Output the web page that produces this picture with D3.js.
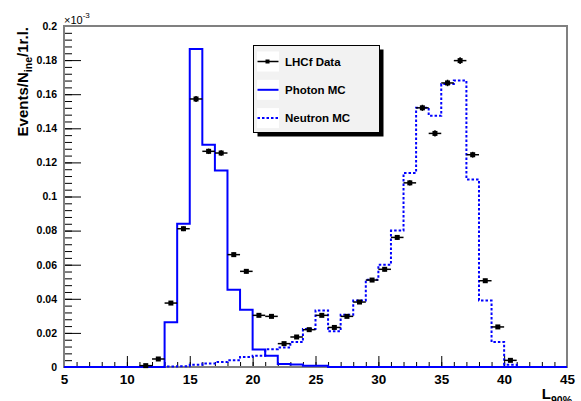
<!DOCTYPE html>
<html lang="en">
<head>
<meta charset="UTF-8">
<title>LHCf L90% distribution</title>
<style>
  body { margin: 0; background: #fff; }
  svg { display: block; font-family: "Liberation Sans", Arial, sans-serif; }
</style>
<script src="https://d3js.org/d3.v7.min.js"></script>
</head>
<body>
<div id="chart"></div>
<script>
// histogram bin edges (1 unit wide, 5..45)
const binEdges = [5, 6, 7, 8, 9, 10, 11, 12, 13, 14, 15, 16, 17, 18, 19, 20, 21, 22, 23, 24, 25,
                  26, 27, 28, 29, 30, 31, 32, 33, 34, 35, 36, 37, 38, 39, 40, 41, 42, 43, 44, 45];

// Photon MC, one value per bin (x10^-3)
const photonMC = [0, 0, 0, 0, 0, 0, 0, 0, 0.0262, 0.0840,
                  0.1865, 0.1304, 0.1153, 0.0453, 0.0336, 0.0102, 0.0066, 0.0018, 0.0015, 0.0008,
                  0.0008, 0, 0, 0, 0, 0, 0, 0, 0, 0,
                  0, 0, 0, 0, 0, 0, 0, 0, 0, 0];

// Neutron MC, one value per bin
const neutronMC = [0, 0, 0, 0, 0, 0, 0, 0, 0.0003, 0.0005,
                   0.0013, 0.0021, 0.0029, 0.0039, 0.0059, 0.0066, 0.0104, 0.0114, 0.0146, 0.0223,
                   0.0332, 0.0209, 0.0307, 0.0390, 0.0512, 0.0600, 0.0800, 0.1138, 0.1520, 0.1474,
                   0.1660, 0.1680, 0.1100, 0.0390, 0.0146, 0.0013, 0, 0, 0, 0];

// LHCf data points (bin centres)
const dataX = [11.5, 12.5, 13.5, 14.5, 15.5, 16.5, 17.5, 18.5, 19.5, 20.5,
               21.5, 22.5, 23.5, 24.5, 25.5, 26.5, 27.5, 28.5, 29.5, 30.5,
               31.5, 32.5, 33.5, 34.5, 35.5, 36.5, 37.5, 38.5, 39.5, 40.5];
const dataY = [0.0008, 0.0047, 0.0375, 0.0811, 0.1572, 0.1265, 0.1255, 0.0659, 0.0561, 0.0303,
               0.0297, 0.0137, 0.0176, 0.0219, 0.0303, 0.0232, 0.0297, 0.0381, 0.0510, 0.0573,
               0.0760, 0.1080, 0.1520, 0.1370, 0.1666, 0.1797, 0.1245, 0.0506, 0.0235, 0.0039];
const dataErr = [0.0006, 0.0008, 0.0012, 0.0014, 0.0018, 0.0016, 0.0016, 0.0012, 0.0012, 0.0010,
                 0.0010, 0.0008, 0.0008, 0.0009, 0.0010, 0.0009, 0.0010, 0.0011, 0.0012, 0.0012,
                 0.0014, 0.0016, 0.0018, 0.0018, 0.0019, 0.0020, 0.0017, 0.0011, 0.0009, 0.0006];

const xTicks = [5, 10, 15, 20, 25, 30, 35, 40, 45];
const yTicks = [0, 0.02, 0.04, 0.06, 0.08, 0.1, 0.12, 0.14, 0.16, 0.18, 0.2];

const legendItems = ["LHCf Data", "Photon MC", "Neutron MC"];

const W = 581, H = 401;
const frame = {left: 64, right: 567, top: 26, bottom: 367};

const svg = d3.select("#chart").append("svg")
  .attr("width", W)
  .attr("height", H);

const x = d3.scaleLinear().domain([5, 45]).range([frame.left, frame.right]);
const y = d3.scaleLinear().domain([0, 0.2]).range([frame.bottom, frame.top]);

// minor ticks
const xMinor = d3.range(5, 45.01, 1);
const yMinor = d3.range(0, 0.2001, 0.004);

svg.append("g")
  .attr("transform", `translate(0,${frame.bottom})`)
  .call(d3.axisBottom(x).tickValues(xMinor).tickSize(-5).tickFormat(""))
  .call(g => g.select(".domain").remove());

svg.append("g")
  .attr("transform", `translate(${frame.left},0)`)
  .call(d3.axisLeft(y).tickValues(yMinor).tickSize(-8).tickFormat(""))
  .call(g => g.select(".domain").remove());

const xAxis = svg.append("g")
  .attr("transform", `translate(0,${frame.bottom})`)
  .call(d3.axisBottom(x).tickValues(xTicks).tickSize(-11).tickPadding(7).tickFormat(d3.format("d")));
xAxis.select(".domain").remove();
xAxis.selectAll("text")
  .attr("font-size", 13.5).attr("font-weight", "bold").attr("fill", "#000")
  .attr("font-family", "Liberation Sans, Arial, sans-serif");

const yAxis = svg.append("g")
  .attr("transform", `translate(${frame.left},0)`)
  .call(d3.axisLeft(y).tickValues(yTicks).tickSize(-17).tickPadding(7)
    .tickFormat(d => d === 0 ? "0" : String(+d.toFixed(2))));
yAxis.select(".domain").remove();
yAxis.selectAll("text")
  .attr("font-size", 10.5).attr("font-weight", "bold").attr("fill", "#000")
  .attr("font-family", "Liberation Sans, Arial, sans-serif");

svg.selectAll(".tick line").attr("stroke", "#000");

// frame
svg.append("rect")
  .attr("x", frame.left).attr("y", frame.top)
  .attr("width", frame.right - frame.left).attr("height", frame.bottom - frame.top)
  .attr("fill", "none").attr("stroke", "#808080").attr("stroke-width", 2);

// step histograms
function stepPoints(vals) {
  const pts = vals.map((v, i) => [binEdges[i], v]);
  pts.push([binEdges[binEdges.length - 1], vals[vals.length - 1]]);
  return pts;
}
const step = d3.line().x(d => x(d[0])).y(d => y(d[1])).curve(d3.curveStepAfter);

svg.append("path")
  .datum(stepPoints(neutronMC))
  .attr("fill", "none").attr("stroke", "#0000ff").attr("stroke-width", 2)
  .attr("stroke-dasharray", "2.5,2")
  .attr("d", step);

svg.append("path")
  .datum(stepPoints(photonMC))
  .attr("fill", "none").attr("stroke", "#0000ff").attr("stroke-width", 2)
  .attr("d", step);

// data points with error bars
const pts = svg.append("g").selectAll("g")
  .data(dataX.map((d, i) => ({x: d, y: dataY[i], e: dataErr[i]})))
  .join("g");
pts.append("line")
  .attr("x1", d => x(d.x - 0.5)).attr("x2", d => x(d.x + 0.5))
  .attr("y1", d => y(d.y)).attr("y2", d => y(d.y))
  .attr("stroke", "#000").attr("stroke-width", 1.5);
pts.append("line")
  .attr("x1", d => x(d.x)).attr("x2", d => x(d.x))
  .attr("y1", d => y(d.y - d.e)).attr("y2", d => y(d.y + d.e))
  .attr("stroke", "#000").attr("stroke-width", 1.5);
pts.append("rect")
  .attr("x", d => x(d.x) - 2.5).attr("y", d => y(d.y) - 2.5)
  .attr("width", 5).attr("height", 5)
  .attr("fill", "#000");

// exponent label
const expo = svg.append("text")
  .attr("x", 64).attr("y", 24)
  .attr("font-size", 11).attr("fill", "#000");
expo.append("tspan").text("\u00d710");
expo.append("tspan").attr("font-size", 8).attr("dy", -6).text("-3");

// y title
const yTitle = svg.append("text")
  .attr("transform", "translate(28,27) rotate(-90)")
  .attr("text-anchor", "end")
  .attr("font-size", 15).attr("font-weight", "bold").attr("fill", "#000");
yTitle.append("tspan").text("Events/N");
yTitle.append("tspan").attr("font-size", 10.5).attr("dy", 4).text("ine");
yTitle.append("tspan").attr("dy", -4).text("/1r.l.");

// x title
const xTitle = svg.append("text")
  .attr("x", 572).attr("y", 399)
  .attr("text-anchor", "end")
  .attr("font-size", 15).attr("font-weight", "bold").attr("fill", "#000");
xTitle.append("tspan").text("L");
xTitle.append("tspan").attr("font-size", 10.5).attr("dy", 5).text("90%");

// legend
const lg = {x: 253.5, y: 45.5, w: 126, h: 87};
svg.append("rect")
  .attr("x", lg.x + 4).attr("y", lg.y + 4).attr("width", lg.w).attr("height", lg.h)
  .attr("fill", "#000");
svg.append("rect")
  .attr("x", lg.x).attr("y", lg.y).attr("width", lg.w).attr("height", lg.h)
  .attr("fill", "#f2f2f2").attr("stroke", "#000").attr("stroke-width", 1);

const entry = svg.append("g").selectAll("g")
  .data(legendItems)
  .join("g")
  .attr("transform", (d, i) => `translate(${lg.x},${lg.y + 16 + i * 28.3})`);
entry.append("rect")
  .attr("x", 3.5).attr("y", -10).attr("width", 22).attr("height", 20)
  .attr("fill", "#fff");
entry.append("line")
  .attr("x1", 4).attr("x2", 25).attr("y1", 0).attr("y2", 0)
  .attr("stroke", (d, i) => i === 0 ? "#000" : "#0000ff")
  .attr("stroke-width", (d, i) => i === 0 ? 1.5 : 2)
  .attr("stroke-dasharray", (d, i) => i === 2 ? "2.5,2" : null);
entry.filter((d, i) => i === 0).append("rect")
  .attr("x", 12).attr("y", -2).attr("width", 4).attr("height", 4).attr("fill", "#000");
entry.append("text")
  .attr("x", 31.5).attr("y", 4)
  .attr("font-size", 11.5).attr("font-weight", "bold").attr("fill", "#000")
  .text(d => d);
</script>
</body>
</html>
